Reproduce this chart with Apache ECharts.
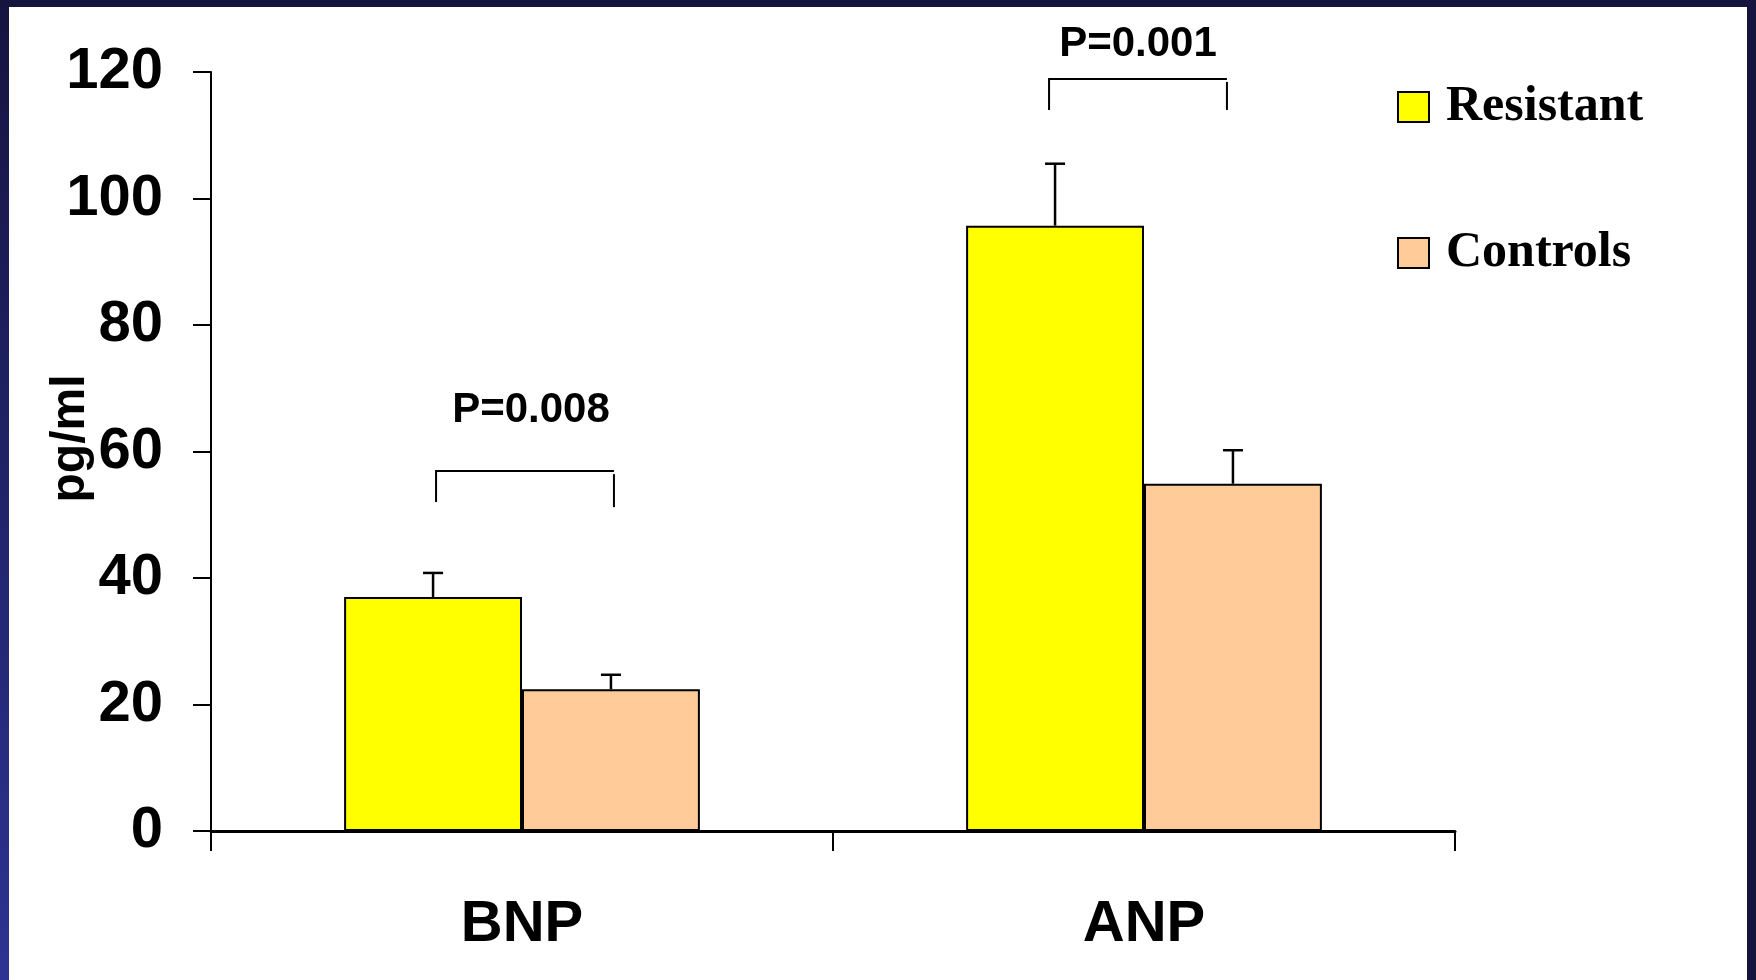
<!DOCTYPE html>
<html>
<head>
<meta charset="utf-8">
<script src="https://cdn.jsdelivr.net/npm/echarts@6/dist/echarts.min.js"></script>
<style>
html,body{margin:0;padding:0;background:#fff;}
#chart{width:1756px;height:980px;}
</style>
</head>
<body>
<div id="chart"></div>
<script>
// ---- data ----
var categories = ['BNP', 'ANP'];
var seriesNames = ['Resistant', 'Controls'];
var resistantValues = [37.0, 95.7];
var resistantErrTop = [40.8, 105.5];
var controlsValues = [22.4, 54.9];
var controlsErrTop = [24.7, 60.2];
var yTicks = [0, 20, 40, 60, 80, 100, 120];
var pLabels = ['P=0.008', 'P=0.001'];
var bracketTop = [56.9, 118.9];
var bracketLegLeft = [52.0, 114.0];
var bracketLegRight = [51.2, 114.0];
var pLabelY = [66.5, 124.4];

// ---- styling constants ----
var BAR_FRAC = 0.286;
var BRACKET_SHIFT = [3, -6];
var LABEL_SHIFT = [6, 0];

var chart = echarts.init(document.getElementById('chart'));

function errSeries(values, tops, side) {
  return {
    type: 'custom',
    z: 5,
    silent: true,
    data: values.map(function (v, i) { return [i, v, tops[i]]; }),
    renderItem: function (params, api) {
      var band = api.size([1, 0])[0];
      var off = side * band * BAR_FRAC / 2;
      var p0 = api.coord([api.value(0), api.value(1)]);
      var p1 = api.coord([api.value(0), api.value(2)]);
      var x = p0[0] + off;
      return {
        type: 'group',
        children: [
          {type: 'line', shape: {x1: x, y1: p0[1], x2: x, y2: p1[1]}, style: {stroke: '#000', lineWidth: 2.5}},
          {type: 'line', shape: {x1: x - 10, y1: p1[1], x2: x + 10, y2: p1[1]}, style: {stroke: '#000', lineWidth: 2.5}}
        ]
      };
    }
  };
}

var bracketData = categories.map(function (c, i) {
  return [i, bracketTop[i], bracketLegLeft[i], bracketLegRight[i], pLabelY[i]];
});

var option = {
  backgroundColor: '#ffffff',
  animation: false,
  graphic: [
    {type: 'rect', left: 0, top: 0, shape: {width: 1756, height: 7}, style: {fill: '#15143f'}, z: 100},
    {type: 'rect', left: 0, top: 0, shape: {width: 9, height: 980},
      style: {fill: new echarts.graphic.LinearGradient(0, 0, 0, 1, [{offset: 0, color: '#15143f'}, {offset: 1, color: '#2e3393'}])}, z: 100},
    {type: 'rect', left: 1747, top: 0, shape: {width: 9, height: 980}, style: {fill: '#15143f'}, z: 100}
  ],
  grid: {left: 211, top: 72, right: 301, bottom: 149, containLabel: false},
  legend: {
    orient: 'vertical',
    left: 1392,
    top: 77,
    icon: 'rect',
    itemWidth: 31,
    itemHeight: 30,
    itemGap: 96,
    data: seriesNames,
    itemStyle: {borderColor: '#000', borderWidth: 2},
    textStyle: {fontFamily: 'Liberation Serif', fontWeight: 'bold', fontSize: 50, color: '#000', padding: [0, 0, 0, 12]},
    selectedMode: false
  },
  xAxis: {
    type: 'category',
    data: categories,
    axisLine: {lineStyle: {color: '#000', width: 3}},
    axisTick: {show: true, length: 20, lineStyle: {color: '#000', width: 2}},
    axisLabel: {fontFamily: 'Liberation Sans', fontWeight: 'bold', fontSize: 58, color: '#000', margin: 65}
  },
  yAxis: {
    type: 'value',
    min: 0,
    max: 120,
    interval: 20,
    name: 'pg/ml',
    nameLocation: 'middle',
    nameGap: 116,
    nameMoveOverlap: false,
    nameTextStyle: {fontFamily: 'Liberation Sans', fontWeight: 'bold', fontSize: 48, color: '#000', padding: [0, 0, 0, 26]},
    splitLine: {show: false},
    axisLine: {show: true, lineStyle: {color: '#000', width: 2}},
    axisTick: {show: true, length: 18, lineStyle: {color: '#000', width: 2}},
    axisLabel: {fontFamily: 'Liberation Sans', fontWeight: 'bold', fontSize: 58, color: '#000', margin: 48,
      formatter: function (v) { return yTicks.indexOf(v) >= 0 ? String(v) : ''; }}
  },
  series: [
    {name: seriesNames[0], type: 'bar', data: resistantValues, barWidth: (BAR_FRAC * 100) + '%', barGap: '0%',
      itemStyle: {color: '#ffff00', borderColor: '#000', borderWidth: 2}},
    {name: seriesNames[1], type: 'bar', data: controlsValues, barWidth: (BAR_FRAC * 100) + '%', barGap: '0%',
      itemStyle: {color: '#ffcc99', borderColor: '#000', borderWidth: 2}},
    errSeries(resistantValues, resistantErrTop, -1),
    errSeries(controlsValues, controlsErrTop, 1),
    {
      type: 'custom',
      z: 5,
      silent: true,
      clip: false,
      data: bracketData,
      renderItem: function (params, api) {
        var i = params.dataIndex;
        var band = api.size([1, 0])[0];
        var off = band * BAR_FRAC / 2;
        var c = api.coord([api.value(0), api.value(1)]);
        var yl = api.coord([api.value(0), api.value(2)])[1];
        var yr = api.coord([api.value(0), api.value(3)])[1];
        var yt = api.coord([api.value(0), api.value(4)])[1];
        var xl = c[0] - off + BRACKET_SHIFT[i], xr = c[0] + off + BRACKET_SHIFT[i];
        return {
          type: 'group',
          children: [
            {type: 'polyline', shape: {points: [[xl, yl], [xl, c[1]], [xr, c[1]]]}, style: {stroke: '#000', lineWidth: 2, fill: null}},
            {type: 'line', shape: {x1: xr, y1: c[1] + 3, x2: xr, y2: yr}, style: {stroke: '#000', lineWidth: 2}},
            {type: 'text', x: (xl + xr) / 2 + LABEL_SHIFT[i], y: yt,
              style: {text: pLabels[i], fontFamily: 'Liberation Sans', fontWeight: 'bold', fontSize: 42, fill: '#000', align: 'center', verticalAlign: 'middle'}}
          ]
        };
      }
    }
  ]
};
chart.setOption(option);
</script>
</body>
</html>
